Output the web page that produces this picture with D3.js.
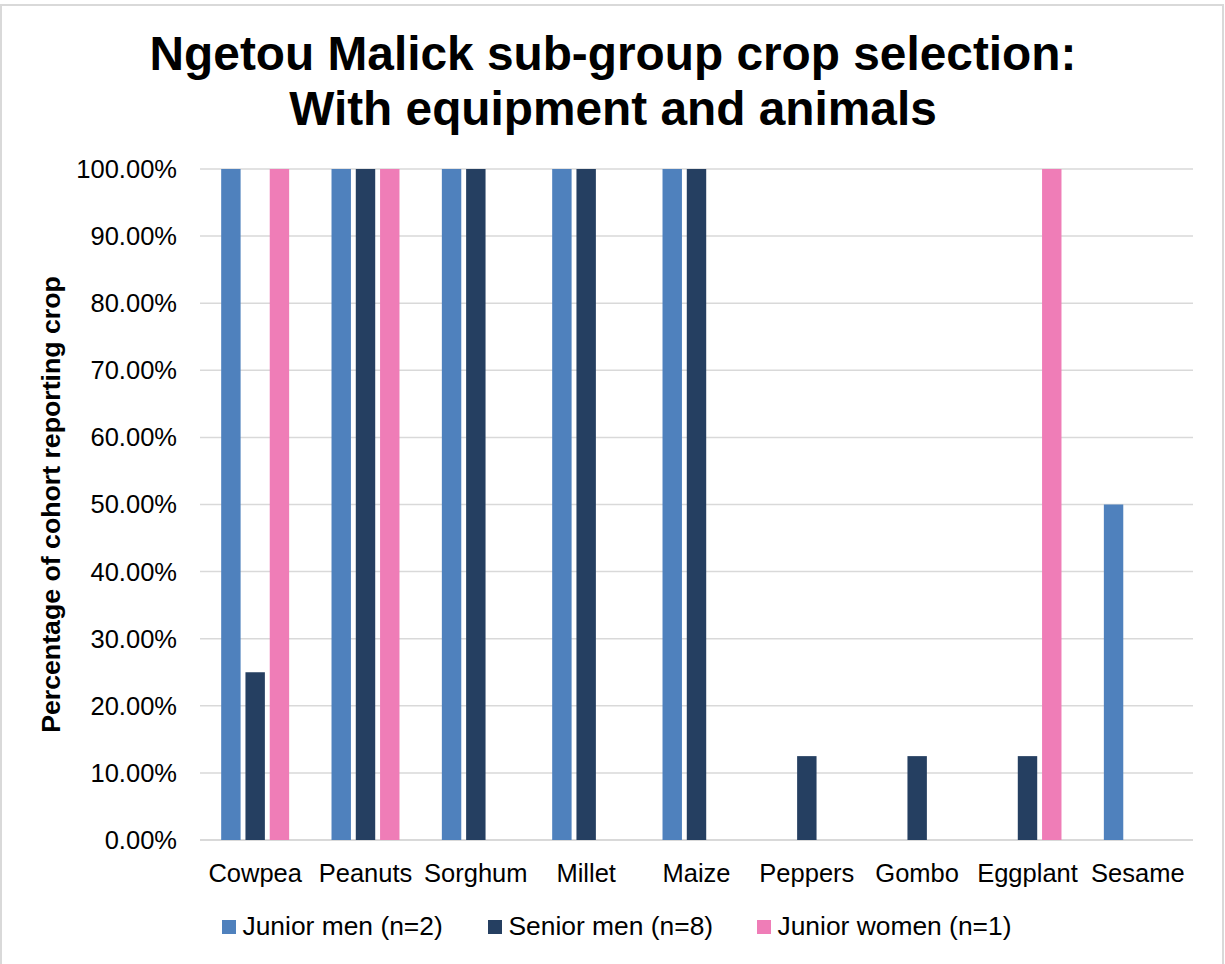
<!DOCTYPE html>
<html>
<head>
<meta charset="utf-8">
<script src="https://cdn.jsdelivr.net/npm/d3@7"></script>
<style>
  html, body { margin: 0; padding: 0; background: #fff; }
  svg { display: block; font-family: "Liberation Sans", Arial, sans-serif; }
</style>
</head>
<body>
<svg id="chart" width="1225" height="964"></svg>
<script>
const categories = ['Cowpea', 'Peanuts', 'Sorghum', 'Millet', 'Maize', 'Peppers', 'Gombo', 'Eggplant', 'Sesame'];
const seriesNames = ['Junior men (n=2)', 'Senior men (n=8)', 'Junior women (n=1)'];
const juniorMen = [1, 1, 1, 1, 1, 0, 0, 0, 0.5];
const seniorMen = [0.25, 1, 1, 1, 1, 0.125, 0.125, 0.125, 0];
const juniorWomen = [1, 1, 0, 0, 0, 0, 0, 1, 0];
const yTicks = [0, 0.1, 0.2, 0.3, 0.4, 0.5, 0.6, 0.7, 0.8, 0.9, 1];
const colors = ['#4f81bd', '#253f61', '#ef7db7'];

const values = [juniorMen, seniorMen, juniorWomen];

const svg = d3.select('#chart');

const plot = { left: 200, right: 1193, top: 169, bottom: 840 };

// chart frame
svg.append('rect')
  .attr('x', 1)
  .attr('y', 5)
  .attr('width', 1222)
  .attr('height', 1000)
  .attr('fill', 'none')
  .attr('stroke', '#d9d9d9')
  .attr('stroke-width', 2);

const x0 = d3.scaleBand()
  .domain(categories)
  .range([plot.left, plot.right]);

const groupPad = x0.bandwidth() * 0.192;
const x1 = d3.scaleBand()
  .domain(d3.range(seriesNames.length))
  .range([groupPad, x0.bandwidth() - groupPad])
  .paddingInner(0.2);

const y = d3.scaleLinear()
  .domain([0, 1])
  .range([plot.bottom, plot.top]);

// gridlines
svg.append('g')
  .selectAll('line')
  .data(yTicks)
  .join('line')
  .attr('x1', plot.left)
  .attr('x2', plot.right)
  .attr('y1', d => y(d))
  .attr('y2', d => y(d))
  .attr('stroke', '#d9d9d9')
  .attr('stroke-width', d => d === 0 ? 2 : 1.5);

// y tick labels
svg.append('g')
  .selectAll('text')
  .data(yTicks)
  .join('text')
  .attr('x', 177)
  .attr('y', d => y(d))
  .attr('dy', '0.35em')
  .attr('text-anchor', 'end')
  .attr('font-size', 25.5)
  .attr('fill', '#000')
  .text(d => d3.format('.2%')(d));

// bars
const groups = svg.append('g')
  .selectAll('g')
  .data(categories)
  .join('g')
  .attr('transform', d => `translate(${x0(d)},0)`);

groups.selectAll('rect')
  .data((d, i) => values.map((s, k) => ({ k, v: s[i] })))
  .join('rect')
  .attr('x', d => x1(d.k))
  .attr('width', x1.bandwidth())
  .attr('y', d => y(d.v))
  .attr('height', d => y(0) - y(d.v))
  .attr('fill', d => colors[d.k]);

// category labels
svg.append('g')
  .selectAll('text')
  .data(categories)
  .join('text')
  .attr('x', d => x0(d) + x0.bandwidth() / 2)
  .attr('y', 882)
  .attr('text-anchor', 'middle')
  .attr('font-size', 25.5)
  .attr('fill', '#000')
  .text(d => d);

// y axis title
svg.append('text')
  .attr('transform', `translate(60, ${(plot.top + plot.bottom) / 2}) rotate(-90)`)
  .attr('text-anchor', 'middle')
  .attr('font-size', 26.7)
  .attr('font-weight', 'bold')
  .text('Percentage of cohort reporting crop');

// title
const title = svg.append('text')
  .attr('text-anchor', 'middle')
  .attr('font-size', 47.8)
  .attr('font-weight', 'bold');
title.append('tspan').attr('x', 613).attr('y', 70).text('Ngetou Malick sub-group crop selection:');
title.append('tspan').attr('x', 613).attr('y', 125).text('With equipment and animals');

// legend
const legendX = [222, 488, 757];
const legend = svg.append('g')
  .selectAll('g')
  .data(seriesNames)
  .join('g')
  .attr('transform', (d, i) => `translate(${legendX[i]}, 920)`);

legend.append('rect')
  .attr('width', 14)
  .attr('height', 14)
  .attr('fill', (d, i) => colors[i]);

legend.append('text')
  .attr('x', 20.5)
  .attr('y', 15)
  .attr('font-size', 26.4)
  .attr('fill', '#000')
  .text(d => d);
</script>
</body>
</html>
